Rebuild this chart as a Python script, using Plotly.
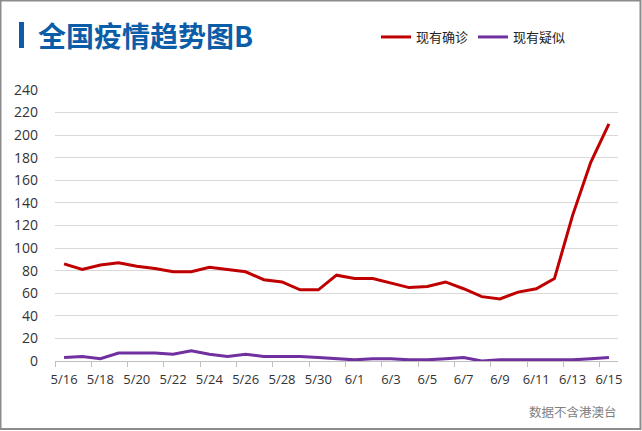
import plotly.graph_objects as go

dates = ["5/16","5/17","5/18","5/19","5/20","5/21","5/22","5/23","5/24","5/25",
         "5/26","5/27","5/28","5/29","5/30","5/31","6/1","6/2","6/3","6/4",
         "6/5","6/6","6/7","6/8","6/9","6/10","6/11","6/12","6/13","6/14","6/15"]
confirmed = [86, 81, 85, 87, 84, 82, 79, 79, 83, 81,
             79, 72, 70, 63, 63, 76, 73, 73, 69, 65,
             66, 70, 64, 57, 55, 61, 64, 73, 129, 176, 210]
suspected = [3, 4, 2, 7, 7, 7, 6, 9, 6, 4,
             6, 4, 4, 4, 3, 2, 1, 2, 2, 1,
             1, 2, 3, 0, 1, 1, 1, 1, 1, 2, 3]
series_names = ["现有确诊", "现有疑似"]
title_text = "全国疫情趋势图B"
footer_text = "数据不含港澳台"
y_ticks = list(range(0, 241, 20))

W, H = 642, 431
ML, MR, MT, MB = 55, 24, 90, 70
PW, PH = W - ML - MR, H - MT - MB

idx = list(range(len(dates)))
FONT = "Open Sans, Noto Sans CJK SC, sans-serif"

fig = go.Figure()
fig.add_trace(go.Scatter(x=idx, y=confirmed, mode="lines", name=series_names[0],
                         line=dict(color="#C00000", width=3)))
fig.add_trace(go.Scatter(x=idx, y=suspected, mode="lines", name=series_names[1],
                         line=dict(color="#7030A0", width=3)))

def px_x(p):
    return (p - ML) / PW

def px_y(p):
    return 1 - (p - MT) / PH

fig.update_layout(
    width=W, height=H,
    margin=dict(l=ML, r=MR, t=MT, b=MB, pad=0),
    paper_bgcolor="white", plot_bgcolor="white",
    font=dict(family=FONT, size=13, color="#333333"),
    showlegend=True,
    legend=dict(orientation="h", x=px_x(376), y=px_y(37), xanchor="left", yanchor="middle",
                font=dict(size=13, color="#222222", family="Noto Sans CJK SC, sans-serif"),
                bgcolor="rgba(0,0,0,0)", itemwidth=30, tracegroupgap=0),
    xaxis=dict(range=[-0.5, len(dates) - 0.5], tickvals=idx[::2], ticktext=dates[::2],
               ticks="", showgrid=False, zeroline=False, showline=True,
               linecolor="#BFBFBF", linewidth=1,
               tickfont=dict(size=13, color="#333333"), ticklabelstandoff=6,
               minor=dict(tickvals=[i - 0.5 for i in idx[::2]], ticks="outside",
                          ticklen=5, tickcolor="#BFBFBF", tickwidth=1, showgrid=False)),
    yaxis=dict(range=[0, 240], tickvals=y_ticks, showgrid=True, gridcolor="#D9D9D9",
               gridwidth=1, zeroline=False, showline=False, ticks="",
               tickfont=dict(size=14, color="#333333"), ticklabelstandoff=16),
)

# title bar + title
fig.add_shape(type="rect", xref="paper", yref="paper",
              x0=px_x(19), x1=px_x(24), y0=px_y(22), y1=px_y(48),
              fillcolor="#0B5DA8", line=dict(width=0))
fig.add_annotation(text="<b>" + title_text + "</b>", xref="paper", yref="paper",
                   x=px_x(36), y=px_y(35), xanchor="left", yanchor="middle",
                   showarrow=False,
                   font=dict(size=28, color="#0B5DA8", family="Noto Sans CJK SC, sans-serif"))
# footer
fig.add_annotation(text=footer_text, xref="paper", yref="paper",
                   x=px_x(619), y=px_y(411), xanchor="right", yanchor="middle",
                   showarrow=False,
                   font=dict(size=12.5, color="#7F7F7F", family="Noto Sans CJK SC, sans-serif"))
# outer border
fig.add_shape(type="rect", xref="paper", yref="paper",
              x0=px_x(0.5), x1=px_x(640.5), y0=px_y(0.5), y1=px_y(429),
              fillcolor="rgba(0,0,0,0)", line=dict(color="#8C8C8C", width=2), layer="above")

fig.write_html("out.html")
